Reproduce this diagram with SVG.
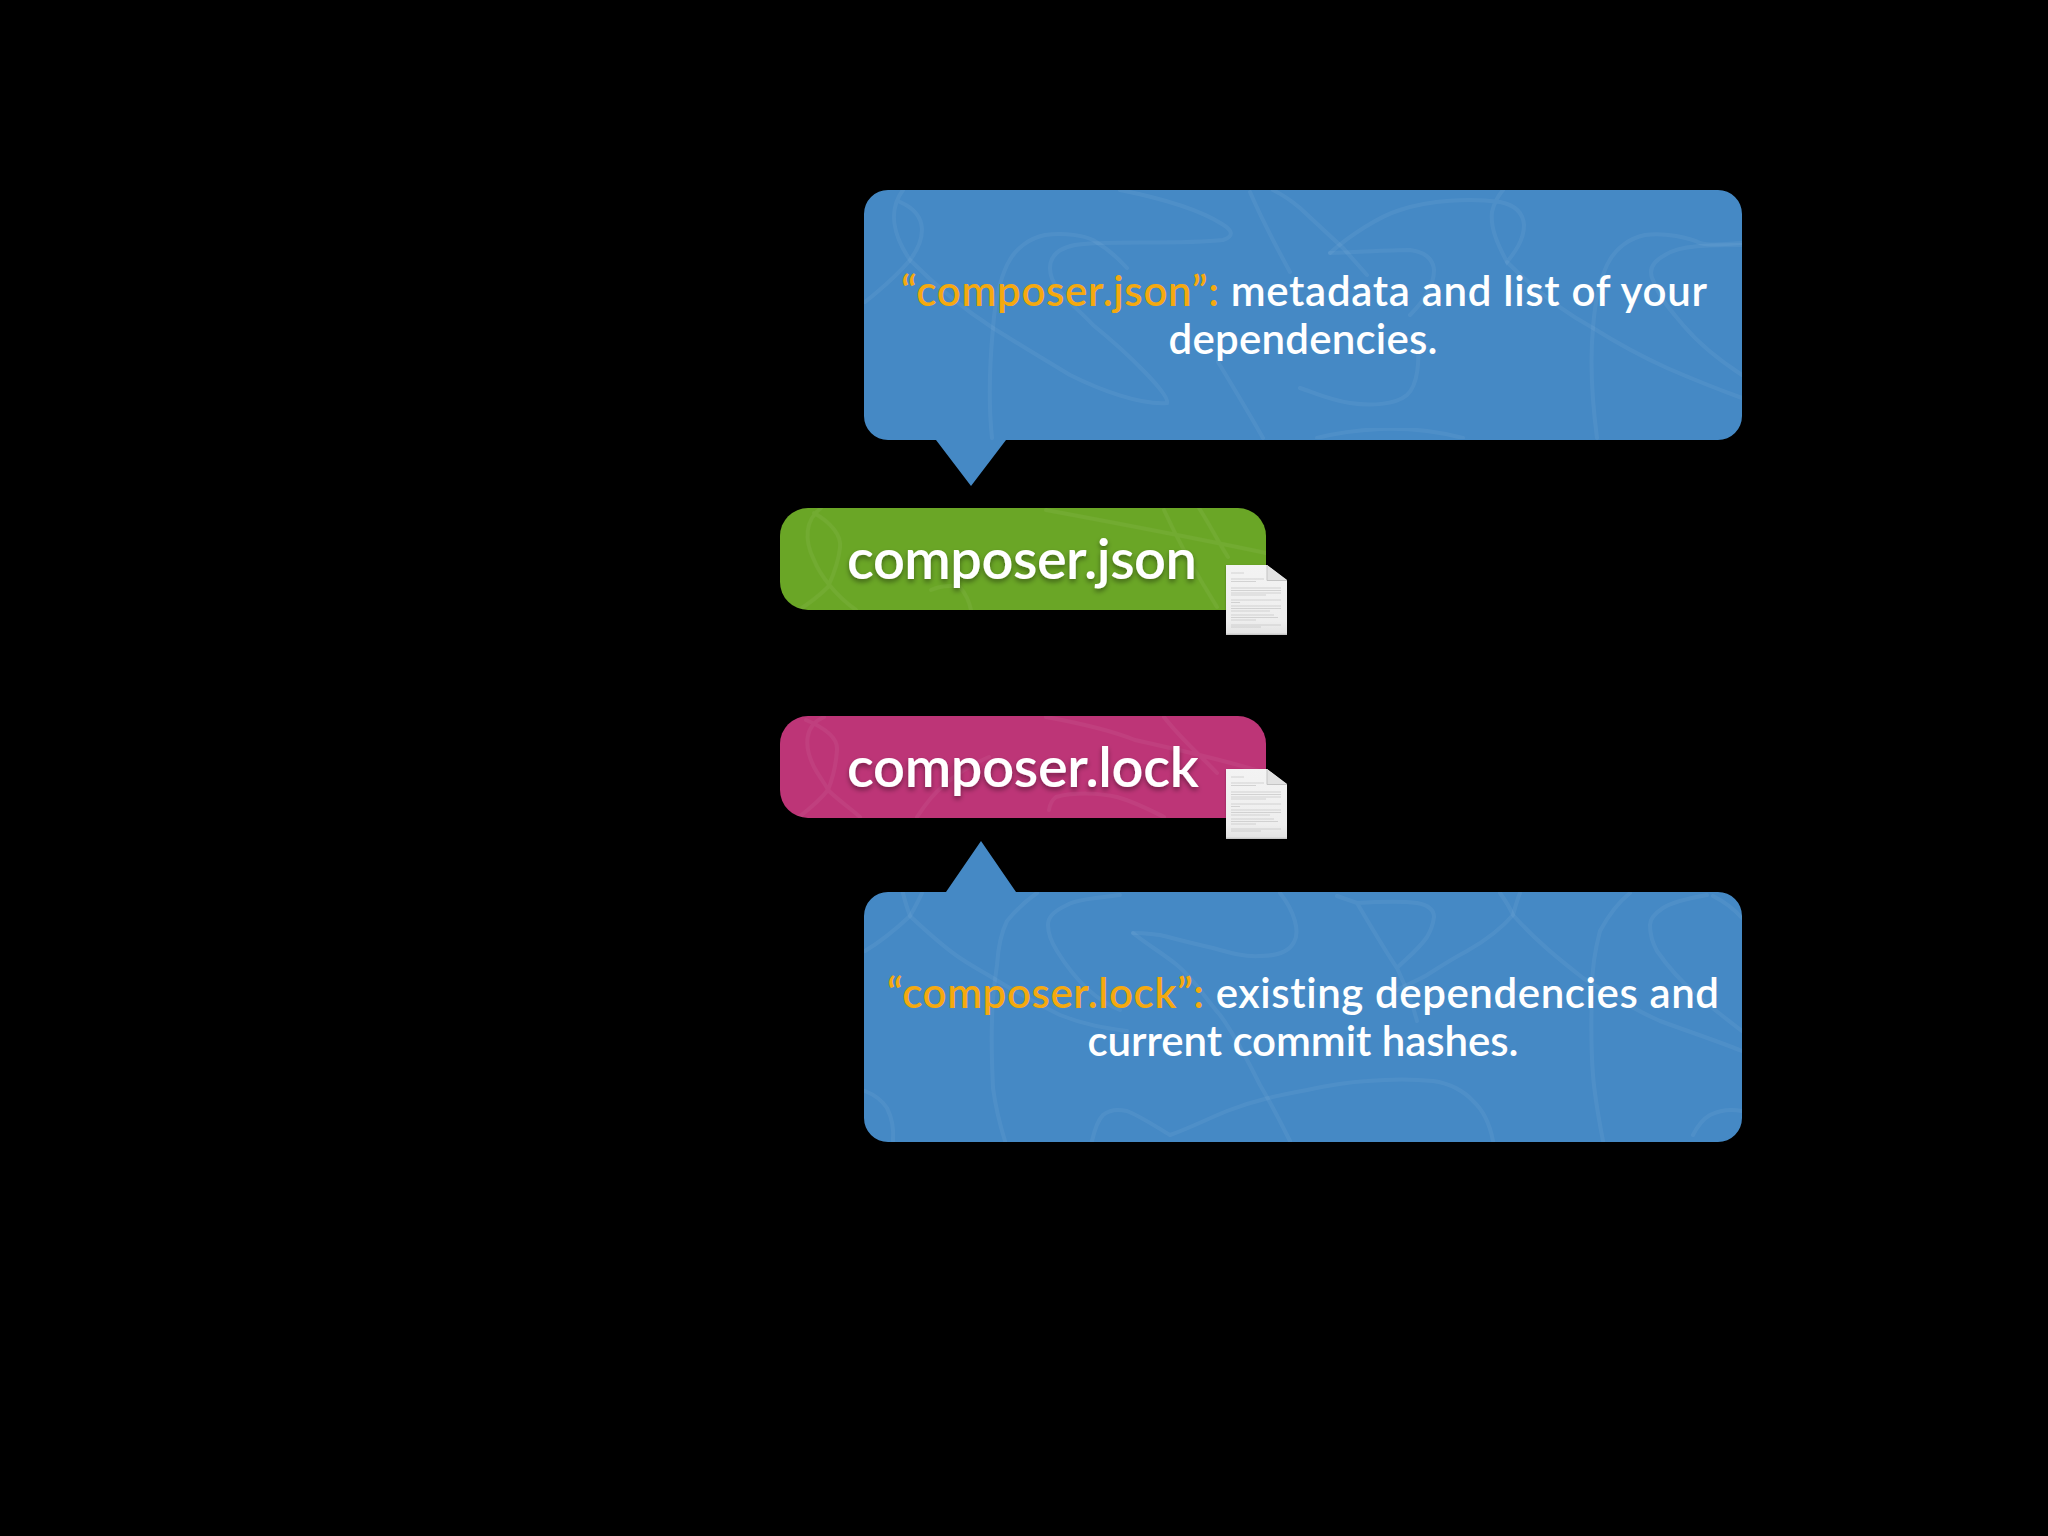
<svg xmlns="http://www.w3.org/2000/svg" width="2048" height="1536" viewBox="0 0 2048 1536">
<style>
.sw{fill:none;stroke:#fff;stroke-opacity:.05;stroke-width:4;stroke-linecap:round;filter:url(#soft)}
.t{font-family:Lato,"Noto Sans",sans-serif;font-weight:600;font-size:42px;fill:#fff;text-anchor:middle;font-variant-ligatures:none}
.o{fill:#f5a90f}
.h{font-family:Lato,"Noto Sans",sans-serif;font-weight:600;font-size:56px;fill:#fff;text-anchor:middle;font-variant-ligatures:none;filter:url(#ds)}
.dl{stroke:#a5a5a5;stroke-width:.8;stroke-opacity:.5;fill:none}
</style>
<defs>
<filter id="soft" x="-5%" y="-5%" width="110%" height="110%"><feGaussianBlur stdDeviation=".7"/></filter>
<filter id="ds" x="-10%" y="-30%" width="120%" height="170%"><feDropShadow dx="0" dy="3" stdDeviation="2.5" flood-color="#000" flood-opacity=".4"/></filter>
<filter id="ps" x="-20%" y="-20%" width="140%" height="140%"><feDropShadow dx="0" dy="1" stdDeviation="1" flood-color="#000" flood-opacity=".3"/></filter>
<linearGradient id="pg" x1="0" y1="0" x2="0" y2="1"><stop offset="0" stop-color="#f3f3f3"/><stop offset=".8" stop-color="#eeeeee"/><stop offset=".97" stop-color="#e4e4e4"/><stop offset="1" stop-color="#bdbdbd"/></linearGradient>
<clipPath id="c1"><rect x="864" y="190" width="878" height="250" rx="24"/></clipPath>
<clipPath id="c2"><rect x="864" y="892" width="878" height="250" rx="24"/></clipPath>
<clipPath id="c3"><rect x="780" y="508" width="486" height="102" rx="28"/></clipPath>
<clipPath id="c4"><rect x="780" y="716" width="486" height="102" rx="28"/></clipPath>
<g id="doc">
<path d="M0 0H41L61 15V70H0Z" fill="url(#pg)" filter="url(#ps)"/>
<path d="M41 0V15.500H61Z" fill="#e2e2e2"/><path d="M41 0V15.500H61" fill="none" stroke="#c4c4c4" stroke-width="1"/>
<path class="dl" d="M5 8H18M5 14H38M5 16.500H30M5 23H55M5 25.500H55M5 28H55M5 30H40M5 35H55M5 37.500H14M5 41H55M5 43.500H55M5 46H44M5 50H48M5 52.500H52M5 55H30M5 60H55M5 62H35"/>
</g>
</defs>
<rect width="2048" height="1536" fill="#000"/>
<g id="callout-json">
<path d="M888 190H1718A24 24 0 0 1 1742 214V416A24 24 0 0 1 1718 440H1006L971 486L936 440H888A24 24 0 0 1 864 416V214A24 24 0 0 1 888 190Z" fill="#4589c5"/>
<g clip-path="url(#c1)">
<path class="sw" d="M903 190C888 210 893 235 910 260C925 240 930 215 900 202"/>
<path class="sw" d="M865 302C880 290 900 272 910 260C935 285 965 310 993 328C1020 345 1045 360 1070 375C1100 390 1140 405 1167 403C1170 395 1130 355 1093 325C1075 305 1050 290 1050 268C1050 255 1060 248 1075 245C1100 240 1180 245 1223 240C1235 236 1232 230 1222 224C1200 210 1160 198 1120 190"/>
<path class="sw" d="M992 438C988 400 990 360 993 328C995 300 1000 280 1007 265C1015 248 1030 238 1045 235C1065 232 1085 236 1093 240C1105 247 1118 258 1127 268"/>
<path class="sw" d="M1250 192C1262 220 1278 250 1290 272M1218 362C1235 390 1250 415 1263 438M1273 190C1285 196 1293 202 1300 208L1343 248C1352 258 1360 267 1367 275"/>
<path class="sw" d="M1330 253C1350 235 1380 216 1400 210C1430 200 1470 198 1500 202C1515 205 1523 212 1524 225C1524 240 1515 252 1507 262C1498 245 1490 228 1492 212C1494 203 1498 196 1503 190"/>
<path class="sw" d="M1507 262C1530 285 1560 310 1593 328C1620 345 1645 358 1667 368C1690 378 1720 390 1742 398"/>
<path class="sw" d="M1330 253C1360 252 1390 250 1410 250C1425 252 1433 258 1434 270C1434 285 1425 300 1410 315M1417 340C1420 360 1418 385 1407 395C1395 405 1370 406 1350 403C1330 400 1315 393 1300 388"/>
<path class="sw" d="M1597 438C1592 400 1590 360 1593 328C1595 300 1600 280 1607 265C1615 248 1630 238 1645 235C1665 232 1690 238 1700 243C1715 247 1730 243 1742 243"/>
<path class="sw" d="M1742 245C1710 245 1680 245 1665 255C1652 262 1648 270 1653 280C1660 300 1675 315 1683 325C1700 345 1722 362 1742 375"/>
<path class="sw" d="M1317 438C1340 432 1360 430 1380 429C1410 428 1440 432 1463 438"/>
</g>
<text class="t" x="1304" y="306" textLength="806"><tspan class="o">“composer.json”:</tspan> metadata and list of your</text>
<text class="t" x="1303" y="354" textLength="269">dependencies.</text>
</g>
<g id="node-json">
<rect x="780" y="508" width="486" height="102" rx="28" fill="#6aa626"/>
<g clip-path="url(#c3)">
<path class="sw" d="M821 508C805 520 804 540 814 560C820 575 835 595 856 610M814 513C830 522 842 535 840 548C838 565 832 578 828 587C818 597 808 604 799 610"/>
<path class="sw" d="M1046 510C1100 520 1180 535 1266 553M1199 508C1210 525 1220 545 1228 557M1164 510C1180 545 1200 580 1217 607M931 590C940 586 950 585 960 587C965 593 969 600 971 610"/>
</g>
<text class="h" x="1022" y="579" textLength="350">composer.json</text>
<use href="#doc" x="1226" y="565"/>
</g>
<g id="node-lock">
<rect x="780" y="716" width="486" height="102" rx="28" fill="#bd3577"/>
<g clip-path="url(#c4)">
<path class="sw" d="M824 717C805 725 803 745 814 767C820 778 826 785 828 790C838 800 850 808 860 817M806 720C825 728 838 738 837 750C836 765 832 780 828 790C820 800 808 810 799 817"/>
<path class="sw" d="M1046 717C1090 725 1115 732 1135 740C1180 750 1230 762 1266 773M1164 717C1180 738 1200 755 1217 773M1049 810C1050 803 1052 800 1056 797C1075 792 1100 793 1117 797C1135 802 1150 810 1164 817M917 817C925 805 932 795 942 787C955 775 970 765 989 757"/>
</g>
<text class="h" x="1023" y="787" textLength="352">composer.lock</text>
<use href="#doc" x="1226" y="769"/>
</g>
<g id="callout-lock">
<path d="M888 892H946L981 841L1016 892H1718A24 24 0 0 1 1742 916V1118A24 24 0 0 1 1718 1142H888A24 24 0 0 1 864 1118V916A24 24 0 0 1 888 892Z" fill="#4589c5"/>
<g clip-path="url(#c2)">
<path class="sw" d="M922 893C918 902 914 909 910 916C895 930 880 942 865 951"/>
<path class="sw" d="M903 893C905 902 908 910 910 916C925 930 945 948 960 958C975 968 985 973 993 978C1020 995 1040 1005 1060 1015C1085 1025 1105 1028 1127 1031"/>
<path class="sw" d="M1037 893C1020 905 1012 915 1007 921C1000 935 998 950 997 965C994 985 992 1005 992 1021C991 1045 992 1065 993 1088C996 1110 1000 1125 1005 1141"/>
<path class="sw" d="M1120 895C1095 898 1075 900 1067 905C1052 912 1048 918 1048 925C1048 935 1052 943 1057 951C1075 980 1095 1000 1120 1010"/>
<path class="sw" d="M1133 933C1145 933 1150 934 1160 935C1180 940 1195 944 1213 948C1230 953 1245 957 1260 956C1280 956 1290 950 1294 942C1300 932 1295 912 1280 893"/>
<path class="sw" d="M1133 933C1145 943 1165 955 1177 965C1195 980 1205 998 1220 1015C1235 1035 1250 1065 1260 1085C1272 1105 1282 1125 1290 1141"/>
<path class="sw" d="M1092 1141C1095 1128 1098 1120 1103 1115C1110 1109 1118 1109 1127 1111C1142 1117 1158 1128 1170 1135C1190 1128 1205 1120 1227 1111C1255 1100 1280 1095 1307 1090C1330 1085 1350 1082 1367 1081C1390 1079 1415 1079 1433 1081C1450 1083 1465 1092 1473 1101C1483 1110 1490 1125 1493 1141"/>
<path class="sw" d="M865 1091C875 1095 883 1102 887 1108C892 1118 894 1130 893 1141"/>
<path class="sw" d="M1337 896L1357 903C1375 902 1400 901 1417 903C1428 905 1434 910 1434 917C1433 925 1430 932 1427 937C1418 950 1405 960 1397 968C1390 958 1370 925 1357 903M1397 968C1405 985 1413 1005 1417 1021"/>
<path class="sw" d="M1500 893C1505 900 1510 908 1513 915C1535 940 1560 960 1583 978C1610 995 1635 1010 1660 1021C1690 1032 1720 1042 1742 1051"/>
<path class="sw" d="M1520 893C1517 900 1515 908 1513 915C1500 930 1483 942 1467 951C1450 960 1438 968 1427 975C1415 982 1405 985 1397 990"/>
<path class="sw" d="M1630 893C1615 905 1607 918 1600 931C1595 950 1592 970 1592 988C1591 1020 1591 1050 1593 1075C1595 1100 1600 1125 1603 1141"/>
<path class="sw" d="M1707 895C1690 898 1672 902 1663 908C1654 914 1650 920 1650 925C1650 935 1652 942 1657 951C1670 970 1685 985 1700 998C1715 1010 1730 1022 1742 1031M1713 896C1725 902 1735 910 1742 918M1693 1135C1698 1125 1703 1119 1710 1115C1720 1110 1732 1109 1742 1111"/>
</g>
<text class="t" x="1303" y="1008" textLength="832"><tspan class="o">“composer.lock”:</tspan> existing dependencies and</text>
<text class="t" x="1303" y="1056" textLength="431">current commit hashes.</text>
</g>
</svg>
